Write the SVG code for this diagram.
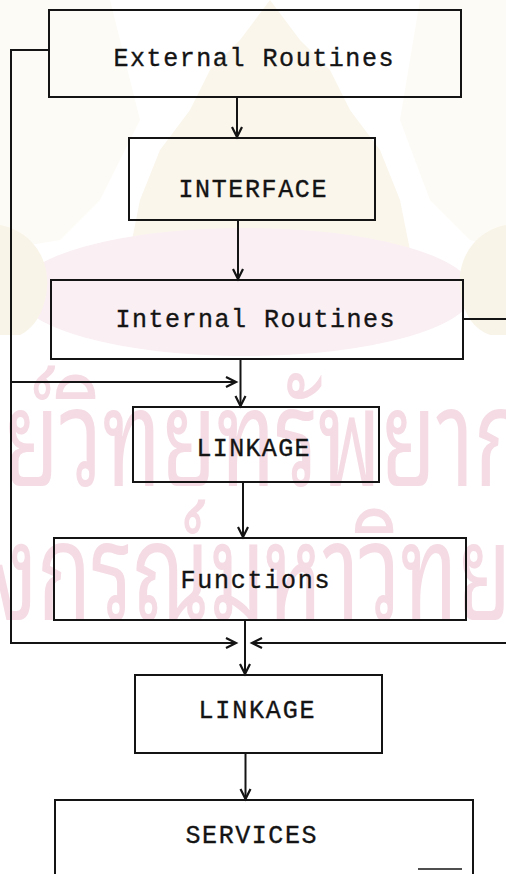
<svg xmlns="http://www.w3.org/2000/svg" width="506" height="874" viewBox="0 0 506 874">
  <style>
    .box { fill: none; stroke: #141414; stroke-width: 2; }
    .lbl { font-family: "Liberation Mono", "Courier New", monospace; font-size: 25px; fill: #141414; stroke: #141414; stroke-width: 0.35; }
    .wire { fill: none; stroke: #141414; stroke-width: 2; }
    .wm { font-family: "Noto Sans Thai Looped", "Noto Serif Thai", "Loma", "Norasi", "Garuda", "Noto Sans Thai", sans-serif; font-size: 136px; fill: #f4dbe4; }
  </style>
  <defs>
    <marker id="arr" viewBox="0 0 12 12" refX="11" refY="6" markerWidth="12" markerHeight="12" markerUnits="userSpaceOnUse" orient="auto" overflow="visible">
      <path d="M1,1 L11,6 L1,11" fill="none" stroke="#141414" stroke-width="2.2" stroke-linejoin="miter"/>
    </marker>
  </defs>

  <rect width="506" height="874" fill="#ffffff"/>

  <!-- faint background seal and lettering -->
  <g id="watermark">
    <path d="M270,0 L300,40 L330,70 L350,110 L380,150 L400,200 L410,250 L130,250 L140,200 L160,150 L190,110 L210,70 L240,40 Z" fill="#faf6ec"/>
    <path d="M0,0 L110,0 L140,120 L100,200 L60,240 L0,250 Z" fill="#fdfbf6"/>
    <path d="M506,0 L420,0 L400,120 L430,200 L470,240 L506,250 Z" fill="#fdfbf6"/>
    <ellipse cx="245" cy="292" rx="228" ry="64" fill="#faeff3"/>
    <path d="M0,225 C30,230 55,260 45,300 C40,320 30,330 20,335 L0,335 Z" fill="#f9f4e8"/>
    <path d="M506,225 C476,230 452,260 462,300 C467,320 477,330 490,335 L506,335 Z" fill="#f9f4e8"/>
    <text class="wm" x="-52" y="486" textLength="624" lengthAdjust="spacingAndGlyphs">นย์วิทยทรัพยากร</text>
    <text class="wm" x="-8" y="620" textLength="660" lengthAdjust="spacingAndGlyphs">งกรณ์มหาวิทยาลัย</text>
  </g>

  <!-- connectors -->
  <g id="connectors">
    <line class="wire" x1="237" y1="97" x2="237" y2="137" marker-end="url(#arr)"/>
    <line class="wire" x1="238" y1="220" x2="238" y2="279" marker-end="url(#arr)"/>
    <line class="wire" x1="240.5" y1="359" x2="240.5" y2="406" marker-end="url(#arr)"/>
    <line class="wire" x1="243" y1="482" x2="243" y2="537" marker-end="url(#arr)"/>
    <line class="wire" x1="245" y1="620" x2="245" y2="674" marker-end="url(#arr)"/>
    <line class="wire" x1="245.5" y1="753" x2="245.5" y2="799" stroke-width="3" marker-end="url(#arr)"/>
    <!-- left return path -->
    <polyline class="wire" points="49,50 11,50 11,643 236,643" marker-end="url(#arr)"/>
    <line class="wire" x1="11" y1="382" x2="236" y2="382" marker-end="url(#arr)"/>
    <!-- right return path (runs off the sheet) -->
    <line class="wire" x1="463" y1="319" x2="506" y2="319"/>
    <line class="wire" x1="506" y1="643" x2="252" y2="643" marker-end="url(#arr)"/>
  </g>

  <g id="external-routines">
    <rect class="box" x="49" y="10" width="412" height="87"/>
    <text class="lbl" x="113.5" y="66" textLength="280" lengthAdjust="spacing">External Routines</text>
  </g>

  <g id="interface">
    <rect class="box" x="129" y="138" width="246" height="82"/>
    <text class="lbl" x="178.5" y="197" textLength="148" lengthAdjust="spacing">INTERFACE</text>
  </g>

  <g id="internal-routines">
    <rect class="box" x="51" y="280" width="412" height="79"/>
    <text class="lbl" x="115.5" y="327" textLength="279" lengthAdjust="spacing">Internal Routines</text>
  </g>

  <g id="linkage-1">
    <rect class="box" x="133" y="407" width="246" height="75"/>
    <text class="lbl" x="196.5" y="456" textLength="113" lengthAdjust="spacing">LINKAGE</text>
  </g>

  <g id="functions">
    <rect class="box" x="54" y="538" width="412" height="82"/>
    <text class="lbl" x="180.5" y="588" textLength="149" lengthAdjust="spacing">Functions</text>
  </g>

  <g id="linkage-2">
    <rect class="box" x="135" y="675" width="247" height="78"/>
    <text class="lbl" x="198.5" y="718" textLength="116" lengthAdjust="spacing">LINKAGE</text>
  </g>

  <g id="services">
    <path class="box" d="M55,876 L55,800 L473,800 L473,876"/>
    <line x1="418" y1="869" x2="462" y2="869" stroke="#141414" stroke-width="1.5"/>
    <text class="lbl" x="185.5" y="843" textLength="131" lengthAdjust="spacing">SERVICES</text>
  </g>
</svg>
